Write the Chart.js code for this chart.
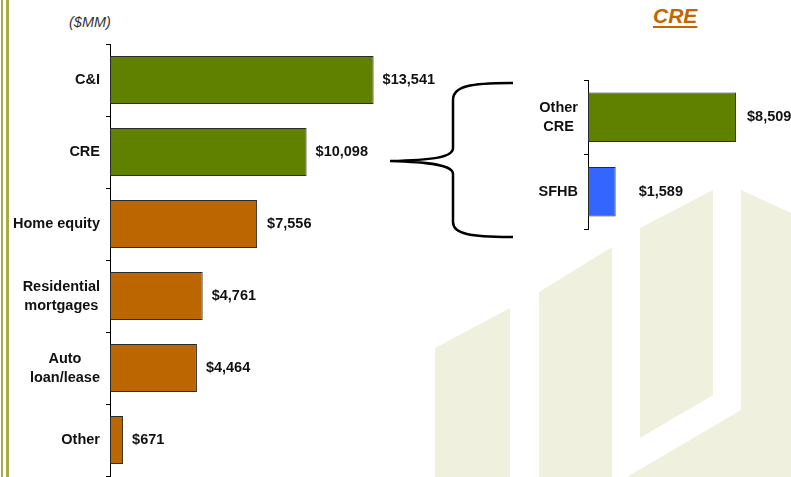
<!DOCTYPE html>
<html>
<head>
<meta charset="utf-8">
<script src="https://cdn.jsdelivr.net/npm/chart.js@4.4.1/dist/chart.umd.min.js"></script>
<style>
  html, body { margin: 0; padding: 0; background: #fff; }
  #stage { position: relative; width: 791px; height: 477px; overflow: hidden; font-family: "Liberation Sans", Arial, sans-serif; }
  #stage canvas, #stage svg, #stage div { position: absolute; }
  .stripe { top: 0; height: 477px; background: #a8aa4c; }
  #unit { left: 69px; top: 15px; font-size: 14.5px; line-height: 14.5px; font-style: italic; color: #333; }
  #creTitle { left: 653px; top: 5px; font-size: 21px; line-height: 21px; font-weight: bold; font-style: italic; color: #c46500;
              text-decoration: underline; text-decoration-thickness: 2px; text-underline-offset: 3px; }
</style>
</head>
<body>
<div id="stage">
  <svg width="791" height="477" style="left:0;top:0">
    <g fill="#eff1de">
      <polygon points="435,348 510,308 510,477 435,477"/>
      <polygon points="539,292 612,247 612,477 539,477"/>
      <polygon points="640,228 713,190 713,395 640,438"/>
      <polygon points="741,190 791,213 791,477 627,477 741,410"/>
    </g>
    <path d="M513,83 C470,83 453,86 453,100 L453,148 C453,158 430,160 390,161 C430,162 453,165 453,174 L453,222 C453,234 470,237 513,237"
          fill="none" stroke="#000" stroke-width="2.5"/>
  </svg>
  <div class="stripe" style="left:1px;width:2px"></div>
  <div class="stripe" style="left:6px;width:3px"></div>
  <div id="unit">($MM)</div>
  <div id="creTitle">CRE</div>
  <canvas id="loanChart" width="470" height="477" style="left:0;top:0"></canvas>
  <canvas id="creChart" width="291" height="240" style="left:500px;top:0"></canvas>
</div>

<script>
const loanCategories = ['C&I', 'CRE', 'Home equity', ['Residential', 'mortgages'], ['Auto', 'loan/lease'], 'Other'];
const loanValues = [13541, 10098, 7556, 4761, 4464, 671];
const loanColors = ['#608000', '#608000', '#bb6600', '#bb6600', '#bb6600', '#bb6600'];

const creCategories = [['Other', 'CRE'], 'SFHB'];
const creValues = [8509, 1589];
const creColors = ['#608000', '#3366ff'];

const FONT = '"Liberation Sans", Arial, sans-serif';

// category labels: lines centred on each other, block right-aligned to the axis
const catLabels = {
    id: 'catLabels',
    afterDraw(chart) {
        const scale = chart.scales.y;
        const ctx = chart.ctx;
        ctx.save();
        ctx.font = 'bold 14.5px ' + FONT;
        ctx.fillStyle = '#111';
        ctx.textAlign = 'center';
        ctx.textBaseline = 'middle';
        const right = scale.right - 10;
        scale.getLabels().forEach((lab, i) => {
            const lines = Array.isArray(lab) ? lab : [lab];
            const w = Math.max(...lines.map(l => ctx.measureText(l).width));
            const cx = right - w / 2;
            const cy = scale.getPixelForTick(i);
            lines.forEach((l, j) => {
                ctx.fillText(l, cx, cy + (j - (lines.length - 1) / 2) * 19);
            });
        });
        ctx.restore();
    }
};

// value labels at the end of each bar
const valueLabels = {
    id: 'valueLabels',
    afterDatasetsDraw(chart, args, opts) {
        const ctx = chart.ctx;
        const ds = chart.data.datasets[0];
        ctx.save();
        ctx.font = 'bold 14.5px ' + FONT;
        ctx.fillStyle = '#111';
        ctx.textAlign = 'left';
        ctx.textBaseline = 'middle';
        chart.getDatasetMeta(0).data.forEach((bar, i) => {
            const gap = opts.gaps ? opts.gaps[i] : 9;
            ctx.fillText('$' + ds.data[i].toLocaleString('en-US'), bar.x + gap, bar.y);
        });
        ctx.restore();
    }
};

function makeChart(id, labels, values, colors, opts) {
    return new Chart(document.getElementById(id), {
        type: 'bar',
        data: {
            labels: labels,
            datasets: [{
                data: values,
                backgroundColor: colors,
                borderColor: '#2a2a2a',
                borderWidth: 1,
                borderSkipped: false,
                barPercentage: 0.667,
                categoryPercentage: 1
            }]
        },
        options: {
            indexAxis: 'y',
            responsive: false,
            animation: false,
            events: [],
            layout: { padding: opts.padding },
            plugins: {
                legend: { display: false },
                tooltip: { enabled: false },
                valueLabels: { gaps: opts.gaps }
            },
            scales: {
                x: { display: false, min: 0, max: opts.max },
                y: {
                    afterFit(scale) { scale.width = opts.axisWidth; },
                    grid: { drawOnChartArea: false, offset: true, tickLength: 4, color: '#000' },
                    border: { display: true, color: '#000', width: 1 },
                    ticks: { display: false }
                }
            }
        },
        plugins: [catLabels, valueLabels]
    });
}

makeChart('loanChart', loanCategories, loanValues, loanColors, {
    padding: { top: 44, bottom: 1, left: 0, right: 68 },
    max: 15000,
    axisWidth: 110,
    gaps: [9, 9, 10, 9, 9, 9]
});

makeChart('creChart', creCategories, creValues, creColors, {
    padding: { top: 80, bottom: 11, left: 0, right: 29 },
    max: 10000,
    axisWidth: 88,
    gaps: [11, 23]
});
</script>
</body>
</html>
